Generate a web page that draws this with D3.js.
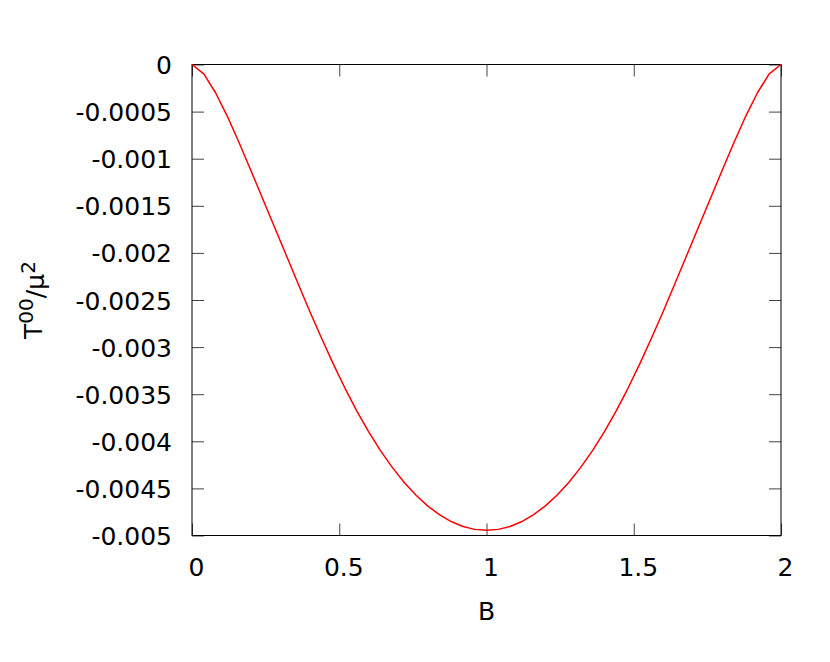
<!DOCTYPE html>
<html lang="en">
<head>
<meta charset="utf-8">
<title>T00 vs B</title>
<script src="https://cdn.jsdelivr.net/npm/d3@7"></script>
<style>
  body { margin: 0; background: #fff; }
  svg text { font-family: "DejaVu Sans", sans-serif; fill: #000; }
</style>
</head>
<body>
<script>
// B sample points and T00/mu^2
var bValues = [0, 0.04, 0.08, 0.12, 0.16, 0.2, 0.24, 0.28, 0.32, 0.36, 0.4, 0.44, 0.48,
  0.52, 0.56, 0.6, 0.64, 0.68, 0.72, 0.76, 0.8, 0.84, 0.88, 0.92, 0.96, 1.0,
  1.04, 1.08, 1.12, 1.16, 1.2, 1.24, 1.28, 1.32, 1.36, 1.4, 1.44, 1.48,
  1.52, 1.56, 1.6, 1.64, 1.68, 1.72, 1.76, 1.8, 1.84, 1.88, 1.92, 1.96, 2.0];
var t00Values = [0, -0.0001, -0.0003, -0.00055, -0.00083, -0.001125, -0.001425, -0.001725,
  -0.002025, -0.002325, -0.002622, -0.002906, -0.003181, -0.00344, -0.00368, -0.0039,
  -0.004099, -0.004277, -0.004434, -0.00457, -0.004685, -0.004779, -0.004852, -0.004904,
  -0.004935, -0.004945,
  -0.004935, -0.004904, -0.004852, -0.004779, -0.004685, -0.00457, -0.004434, -0.004277,
  -0.004099, -0.0039, -0.00368, -0.00344, -0.003181, -0.002906, -0.002622, -0.002325,
  -0.002025, -0.001725, -0.001425, -0.001125, -0.00083, -0.00055, -0.0003, -0.0001, 0];
var xTicks = [0, 0.5, 1, 1.5, 2];
var xTickLabels = ["0", "0.5", "1", "1.5", "2"];
var yTicks = [0, -0.0005, -0.001, -0.0015, -0.002, -0.0025, -0.003, -0.0035, -0.004, -0.0045, -0.005];
var yTickLabels = ["0", "-0.0005", "-0.001", "-0.0015", "-0.002", "-0.0025", "-0.003", "-0.0035", "-0.004", "-0.0045", "-0.005"];

var width = 830, height = 662;
var plotLeft = 192, plotRight = 781, plotTop = 64.5, plotBottom = 535.5;
var fontSize = 25;

var svg = d3.select("body").append("svg")
  .attr("width", width)
  .attr("height", height);

var x = d3.scaleLinear().domain([0, 2]).range([plotLeft, plotRight]);
var y = d3.scaleLinear().domain([-0.005, 0]).range([plotBottom, plotTop]);

var tickLen = 12;
var tickColor = "#444";

// ticks on all four sides, pointing inward
function drawAxis(axis, tx, ty, labels) {
  var g = svg.append("g")
    .attr("transform", "translate(" + tx + "," + ty + ")")
    .call(axis);
  g.select(".domain").remove();
  g.selectAll(".tick line").attr("stroke", tickColor).attr("stroke-width", 1);
  g.selectAll(".tick text")
    .style("font-size", fontSize + "px")
    .style("font-family", "DejaVu Sans, sans-serif")
    .attr("fill", "#000");
  if (!labels) g.selectAll(".tick text").remove();
  return g;
}

var yl = drawAxis(d3.axisLeft(y).tickValues(yTicks)
  .tickFormat(function (d, i) { return yTickLabels[i]; })
  .tickSize(-tickLen).tickPadding(20), plotLeft, 0, true);
yl.selectAll(".tick text").attr("dy", "0.36em");

drawAxis(d3.axisRight(y).tickValues(yTicks).tickSize(-tickLen), plotRight, 0, false);

var xb = drawAxis(d3.axisBottom(x).tickValues(xTicks)
  .tickFormat(function (d, i) { return xTickLabels[i]; })
  .tickSize(-tickLen).tickPadding(19), 0, plotBottom, true);
xb.selectAll(".tick text").attr("dy", "0.85em").attr("dx", 4);

drawAxis(d3.axisTop(x).tickValues(xTicks).tickSize(-tickLen), 0, plotTop, false);

// border
svg.append("rect")
  .attr("x", plotLeft)
  .attr("y", plotTop)
  .attr("width", plotRight - plotLeft)
  .attr("height", plotBottom - plotTop)
  .attr("fill", "none")
  .attr("stroke", "#000")
  .attr("stroke-width", 1);

// curve
var line = d3.line()
  .x(function (d, i) { return x(bValues[i]); })
  .y(function (d) { return y(d); });

svg.append("path")
  .datum(t00Values)
  .attr("d", line)
  .attr("fill", "none")
  .attr("stroke", "#ff0000")
  .attr("stroke-width", 1.5)
  .attr("stroke-linejoin", "round");

// axis titles
svg.append("text")
  .attr("x", (plotLeft + plotRight) / 2)
  .attr("y", 620)
  .attr("text-anchor", "middle")
  .style("font-size", fontSize + "px")
  .text("B");

var yt = svg.append("text")
  .attr("transform", "translate(42," + 300 + ") rotate(-90)")
  .attr("text-anchor", "middle")
  .style("font-size", fontSize + "px");
yt.append("tspan").text("T");
yt.append("tspan").attr("dy", "-0.45em").style("font-size", (fontSize * 0.8) + "px").text("00");
yt.append("tspan").attr("dy", "0.45em").text("/μ");
yt.append("tspan").attr("dy", "-0.45em").style("font-size", (fontSize * 0.8) + "px").text("2");
</script>
</body>
</html>
